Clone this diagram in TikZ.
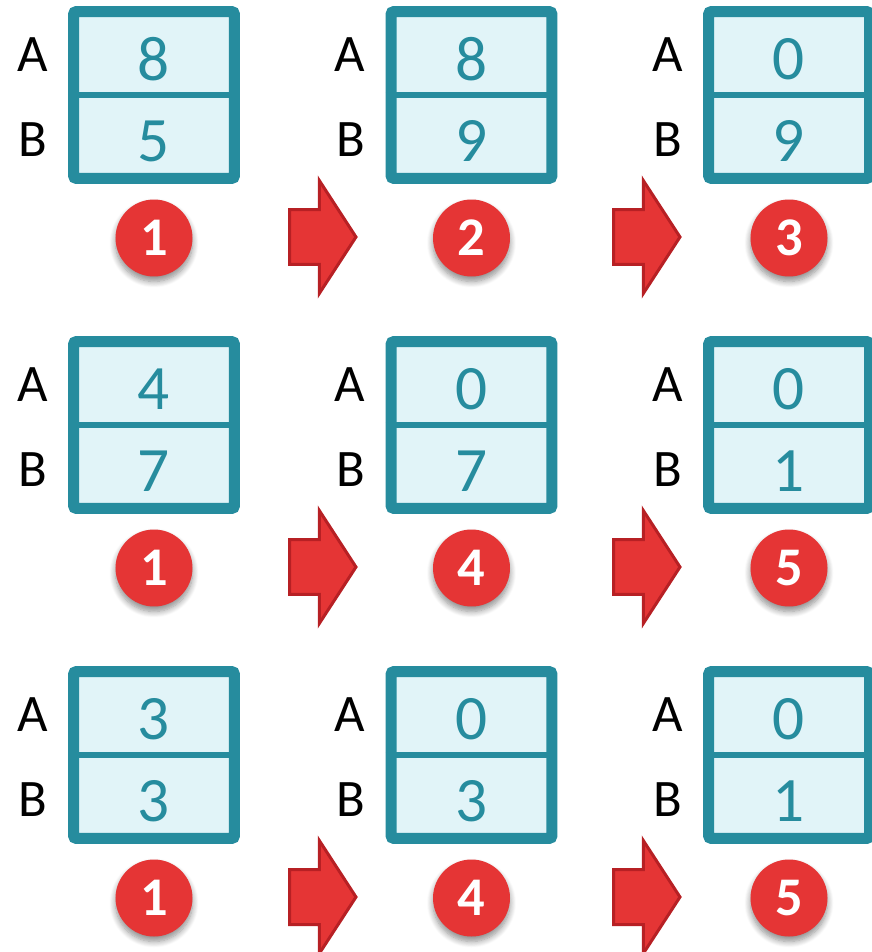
\documentclass[tikz,border=0pt]{standalone}
\usepackage{fontspec}
\setmainfont{Carlito}
\usetikzlibrary{shapes.arrows,shadows.blur}
\definecolor{regline}{RGB}{38,140,158}
\definecolor{regbg}{RGB}{225,244,248}
\definecolor{stepred}{RGB}{229,53,53}
\definecolor{arrowrim}{RGB}{183,32,36}

\begin{document}
\begin{tikzpicture}[x=0.02cm, y=-0.02cm,
    regbox/.style={draw=regline, fill=regbg, line width=0.22cm, rounded corners=0.06cm,
                   minimum width=3.22cm, minimum height=3.34cm, inner sep=0pt},
    divider/.style={draw=regline, line width=0.12cm},
    val/.style={text=regline, font=\fontsize{36}{36}\selectfont, inner sep=0pt},
    lbl/.style={font=\fontsize{30}{30}\selectfont, anchor=east, inner sep=0pt},
    badge/.style={circle, fill=stepred, minimum size=1.54cm, inner sep=0pt, text=white,
                  font=\bfseries\fontsize{31}{31}\selectfont,
                  blur shadow={shadow xshift=0pt, shadow yshift=-0.1cm, shadow blur radius=0.12cm,
                               shadow blur steps=8, shadow opacity=45}},
    go/.style={single arrow, draw=arrowrim, fill=stepred, line width=0.06cm,
               minimum width=2.2cm, minimum height=1.33cm, inner xsep=0pt, inner ysep=0.52cm,
               single arrow head extend=0.58cm, single arrow tip angle=114}
]
    \useasboundingbox (0,0) rectangle (871,952);

    % the nine register states, row by row
    \foreach \a/\b/\n [count=\i from 0] in {8/5/1, 8/9/2, 0/9/3,
                                           4/7/1, 0/7/4, 0/1/5,
                                           3/3/1, 0/3/4, 0/1/5} {
        \pgfmathtruncatemacro\c{mod(\i,3)}
        \pgfmathtruncatemacro\r{div(\i,3)}
        \pgfmathsetmacro\cx{154+317.5*\c}
        \pgfmathsetmacro\ty{330*\r}
        \node[regbox] (box\i) at (\cx, \ty+95) {};
        \draw[divider] (box\i.west) -- (box\i.east);
        \node[val] (a\i) at (\cx, \ty+59) {\a};
        \node[val] (b\i) at (\cx, \ty+141) {\b};
        \node[lbl] (la\i) at (\cx-106, \ty+55) {A};
        \node[lbl] (lb\i) at (\cx-106, \ty+140) {B};
        \node[badge] (s\i) at (\cx, \ty+238) {\n};
    }

    % block arrows between the columns
    \foreach \r in {0,1,2} {
        \node[go, anchor=tail] (ga\r) at (288, 237+330*\r) {};
        \node[go, anchor=tail] (gb\r) at (612, 237+330*\r) {};
    }
\end{tikzpicture}
\end{document}
